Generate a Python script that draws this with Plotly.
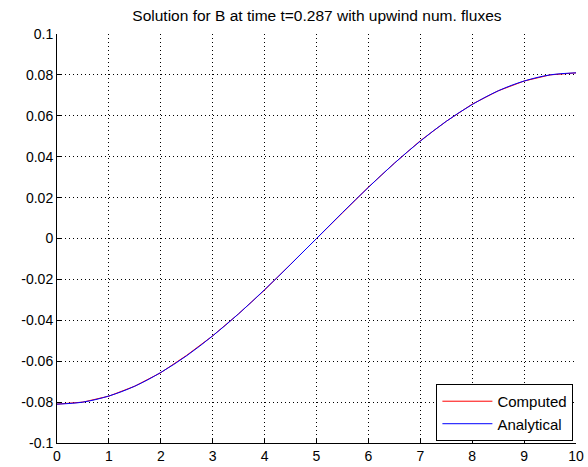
import plotly.graph_objects as go

# Analytical solution samples
x_analytical = [0, 0.5, 1, 1.5, 2, 2.5, 3, 3.5, 4, 4.5, 5,
                5.5, 6, 6.5, 7, 7.5, 8, 8.5, 9, 9.5, 10]
b_analytical = [-0.0810, -0.0800, -0.0770, -0.0722, -0.0655, -0.0573, -0.0476, -0.0368, -0.0250, -0.0127, 0.0,
                0.0127, 0.0250, 0.0368, 0.0476, 0.0573, 0.0655, 0.0722, 0.0770, 0.0800, 0.0810]

# Computed solution samples
x_computed = [0, 0.5, 1, 1.5, 2, 2.5, 3, 3.5, 4, 4.5, 5,
              5.5, 6, 6.5, 7, 7.5, 8, 8.5, 9, 9.5, 10]
b_computed = [-0.0810, -0.0800, -0.0771, -0.0722, -0.0656, -0.0571, -0.0476, -0.0368, -0.0252, -0.0127, -0.0002,
              0.0127, 0.0251, 0.0368, 0.0478, 0.0573, 0.0657, 0.0722, 0.0770, 0.0800, 0.0810]

x_ticks = [0, 1, 2, 3, 4, 5, 6, 7, 8, 9, 10]
y_ticks = [-0.1, -0.08, -0.06, -0.04, -0.02, 0, 0.02, 0.04, 0.06, 0.08, 0.1]
y_ticktext = ["-0.1", "-0.08", "-0.06", "-0.04", "-0.02", "0", "0.02", "0.04", "0.06", "0.08", "0.1"]

fig = go.Figure()
fig.add_trace(go.Scatter(x=x_computed, y=b_computed, mode="lines", name="Computed",
                         line=dict(color="#ff0000", width=1)))
fig.add_trace(go.Scatter(x=x_analytical, y=b_analytical, mode="lines", name="Analytical",
                         line=dict(color="#0000ff", width=1, shape="spline")))

font = "Liberation Sans, Arial, sans-serif"
fig.update_layout(
    width=588, height=467,
    margin=dict(l=57, r=12, t=34, b=24, autoexpand=False),
    paper_bgcolor="white", plot_bgcolor="white",
    title=dict(text="Solution for B at time t=0.287 with upwind num. fluxes",
               x=0.539, xanchor="center", y=0.966, yanchor="middle",
               font=dict(family=font, size=15.5, color="black")),
    font=dict(family=font, size=14, color="black"),
    legend=dict(x=0.995, xanchor="right", y=0.005, yanchor="bottom",
                bgcolor="white", bordercolor="black", borderwidth=1,
                font=dict(family=font, size=15, color="black"),
                tracegroupgap=0, itemwidth=50),
    showlegend=True,
)
fig.update_xaxes(range=[0, 10], tickvals=x_ticks, ticktext=[str(v) for v in x_ticks],
                 showline=True, linecolor="black", linewidth=1, mirror=False,
                 ticks="inside", ticklen=5, tickcolor="black", automargin=False,
                 showgrid=True, gridcolor="black", gridwidth=1, griddash="1px,3px",
                 zeroline=False)
fig.update_yaxes(range=[-0.1, 0.1], tickvals=y_ticks, ticktext=y_ticktext,
                 showline=True, linecolor="black", linewidth=1, mirror=False,
                 ticks="inside", ticklen=5, tickcolor="black", automargin=False,
                 showgrid=True, gridcolor="black", gridwidth=1, griddash="1px,3px",
                 zeroline=False)

fig.write_html("out.html")
